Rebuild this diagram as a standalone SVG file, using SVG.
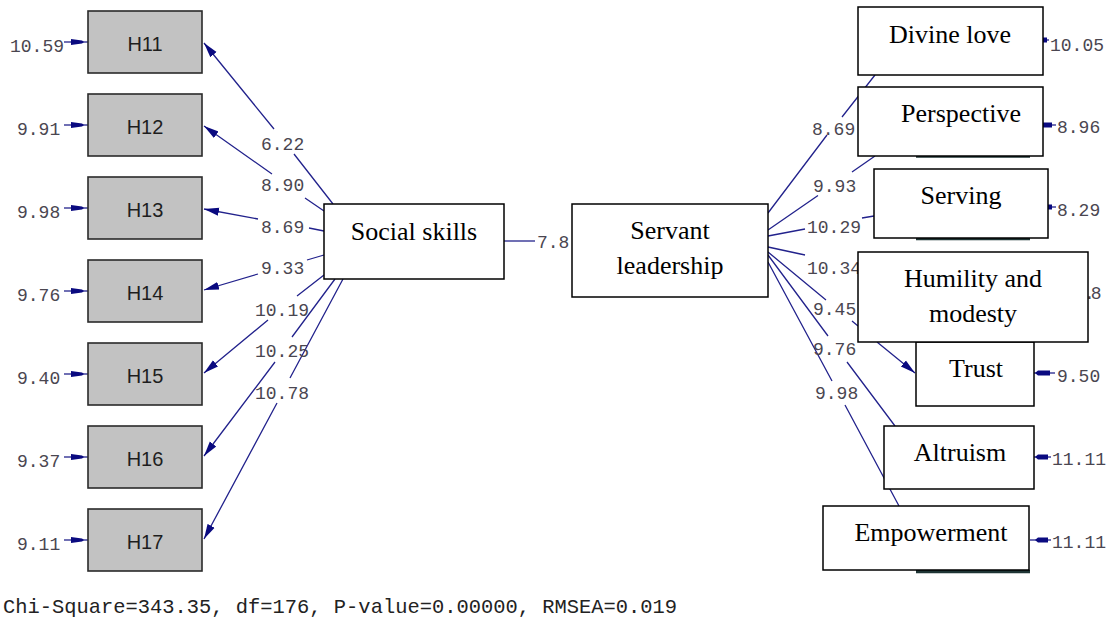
<svg xmlns="http://www.w3.org/2000/svg" xmlns:xlink="http://www.w3.org/1999/xlink" width="1115" height="620" viewBox="0 0 1115 620">
<style>
.ln{fill:none;stroke:#22228c;stroke-width:1.3}
.hd{fill:#0a0a80;stroke:none}
.lab{font-family:"Liberation Mono","Courier New",monospace;font-size:18px;fill:#4a4650}
.chi{font-family:"Courier New","Liberation Mono",monospace;font-size:20.4px;fill:#222}
.obs rect{fill:#c2c2c2;stroke:#2a2a2a;stroke-width:1.6}
.obs text{font-family:"Liberation Sans",Arial,sans-serif;font-size:20px;fill:#1e1e1e;text-anchor:middle}
.bx rect{fill:#fff;stroke:#000;stroke-width:1.5}
.bx text{font-family:"Liberation Serif","Times New Roman",serif;font-size:26px;fill:#000;text-anchor:middle}
.rem{stroke:#1f3535;stroke-width:3.5}
</style>
<defs>
<marker id="ah" viewBox="0 0 16 10" refX="15" refY="5" markerWidth="16" markerHeight="10" markerUnits="userSpaceOnUse" orient="auto">
<path d="M0,1 L15,5 L0,9 z" fill="#0a0a80"/>
</marker>
<g id="eL"><path class="ln" d="M64,0 H88"/><path class="hd" d="M71,-3 L82,-1.6 L84,0 L82,1.6 L71,3 Z"/></g>
</defs>

<g id="connectors">
<!-- Social skills -> H indicators -->
<path class="ln" marker-end="url(#ah)" d="M333,204 L294,154 M274,129 L204,43"/>
<path class="ln" marker-end="url(#ah)" d="M324,211 L305,198 M272,174 L204,126"/>
<path class="ln" marker-end="url(#ah)" d="M324,231 L309,228 M258,219 L204,209"/>
<path class="ln" marker-end="url(#ah)" d="M324,255 L307,260 M258,274 L204,290"/>
<path class="ln" marker-end="url(#ah)" d="M324,275 L297,296 M268,320 L204,373"/>
<path class="ln" marker-end="url(#ah)" d="M335,279 L292,337 M275,362 L204,456"/>
<path class="ln" marker-end="url(#ah)" d="M343,279 L290,378 M277,403 L204,539"/>
<text class="lab" x="261" y="150">6.22</text>
<text class="lab" x="261" y="191">8.90</text>
<text class="lab" x="261" y="233">8.69</text>
<text class="lab" x="261" y="274">9.33</text>
<text class="lab" x="255" y="316">10.19</text>
<text class="lab" x="255" y="357">10.25</text>
<text class="lab" x="255" y="399">10.78</text>

<!-- Social skills -> Servant leadership -->
<path class="ln" d="M504,241 H535"/>
<text class="lab" x="537" y="248">7.8</text>

<!-- Servant leadership -> dimensions -->
<path class="ln" d="M768,213 L827,135 M842,117 L875,75"/>
<path class="ln" d="M768,230 L818,195.5 M852,172 L875,156"/>
<path class="ln" d="M768,236 L805,229 M862,218 L874,216"/>
<path class="ln" d="M768,247 L805,255"/>
<path class="ln" marker-end="url(#ah)" d="M768,252 L826,300 M852,321 L858,326 M877,342 L915,373"/>
<path class="ln" d="M768,255 L828,336 M847,362 L895,426"/>
<path class="ln" d="M768,262 L832,381 M845,405 L899,506"/>
<text class="lab" x="812" y="135">8.69</text>
<text class="lab" x="813" y="192">9.93</text>
<text class="lab" x="807" y="233">10.29</text>
<text class="lab" x="807" y="274">10.34</text>
<text class="lab" x="813" y="315">9.45</text>
<text class="lab" x="813" y="355">9.76</text>
<text class="lab" x="815" y="399">9.98</text>

<!-- error terms, left -->
<use xlink:href="#eL" href="#eL" y="42"/>
<use xlink:href="#eL" href="#eL" y="125"/>
<use xlink:href="#eL" href="#eL" y="208"/>
<use xlink:href="#eL" href="#eL" y="291"/>
<use xlink:href="#eL" href="#eL" y="374"/>
<use xlink:href="#eL" href="#eL" y="457"/>
<use xlink:href="#eL" href="#eL" y="540"/>
<text class="lab" x="10" y="52">10.59</text>
<text class="lab" x="17" y="135">9.91</text>
<text class="lab" x="17" y="218">9.98</text>
<text class="lab" x="17" y="301">9.76</text>
<text class="lab" x="17" y="384">9.40</text>
<text class="lab" x="17" y="467">9.37</text>
<text class="lab" x="17" y="550">9.11</text>

<!-- error terms, right -->
<path class="ln" d="M1030,40 H1049"/><path class="hd" d="M1035,40 L1038,37.5 H1047 V42.5 H1038 Z"/>
<path class="ln" d="M1030,125 H1056"/><path class="hd" d="M1035,125 L1038,122.5 H1052 V127.5 H1038 Z"/>
<path class="ln" d="M1030,207 H1056"/><path class="hd" d="M1035,207 L1038,204.5 H1052 V209.5 H1038 Z"/>
<path class="ln" d="M1030,373 H1055"/><path class="hd" d="M1035,373 L1038,370.5 H1050 V375.5 H1038 Z"/>
<path class="ln" d="M1030,457 H1051"/><path class="hd" d="M1035,457 L1038,454.5 H1048 V459.5 H1038 Z"/>
<path class="ln" d="M1030,540 H1051"/><path class="hd" d="M1035,540 L1038,537.5 H1048 V542.5 H1038 Z"/>
<text class="lab" x="1050" y="51">10.05</text>
<text class="lab" x="1057" y="133">8.96</text>
<text class="lab" x="1057" y="216">8.29</text>
<text class="lab" x="1084" y="299" letter-spacing="-4">.8</text>
<text class="lab" x="1057" y="382">9.50</text>
<text class="lab" x="1052" y="465">11.11</text>
<text class="lab" x="1052" y="548">11.11</text>
</g>

<g id="remnants">
<path class="rem" d="M916,156 H1030 M916,238.5 H1030 M916,571.5 H1030"/>
</g>

<g id="H11" class="obs"><rect x="88" y="11" width="114" height="62"/><text x="145" y="51">H11</text></g>
<g id="H12" class="obs"><rect x="88" y="94" width="114" height="62"/><text x="145" y="134">H12</text></g>
<g id="H13" class="obs"><rect x="88" y="177" width="114" height="62"/><text x="145" y="217">H13</text></g>
<g id="H14" class="obs"><rect x="88" y="260" width="114" height="62"/><text x="145" y="300">H14</text></g>
<g id="H15" class="obs"><rect x="88" y="343" width="114" height="62"/><text x="145" y="383">H15</text></g>
<g id="H16" class="obs"><rect x="88" y="426" width="114" height="62"/><text x="145" y="466">H16</text></g>
<g id="H17" class="obs"><rect x="88" y="509" width="114" height="62"/><text x="145" y="549">H17</text></g>

<g id="social-skills" class="bx"><rect x="324" y="204" width="180" height="75"/><text x="414" y="240">Social skills</text></g>
<g id="servant-leadership" class="bx"><rect x="572" y="204" width="196" height="93"/><text x="670" y="239">Servant</text><text x="670" y="274">leadership</text></g>

<g id="divine-love" class="bx"><rect x="858" y="7" width="185" height="68"/><text x="950" y="43">Divine love</text></g>
<g id="perspective" class="bx"><rect x="858" y="87" width="185" height="69"/><text x="961" y="122">Perspective</text></g>
<g id="serving" class="bx"><rect x="874" y="169" width="174" height="69"/><text x="961" y="204">Serving</text></g>
<g id="trust" class="bx"><rect x="916" y="342" width="118" height="64"/><text x="976" y="377">Trust</text></g>
<g id="humility" class="bx"><rect x="858" y="252" width="230" height="90"/><text x="973" y="287">Humility and</text><text x="973" y="322">modesty</text></g>
<g id="altruism" class="bx"><rect x="884" y="426" width="150" height="63"/><text x="960" y="461">Altruism</text></g>
<g id="empowerment" class="bx"><rect x="823" y="506" width="206" height="64"/><text x="931" y="541">Empowerment</text></g>

<text class="chi" x="3" y="613" textLength="674" lengthAdjust="spacingAndGlyphs">Chi-Square=343.35, df=176, P-value=0.00000, RMSEA=0.019</text>
</svg>
